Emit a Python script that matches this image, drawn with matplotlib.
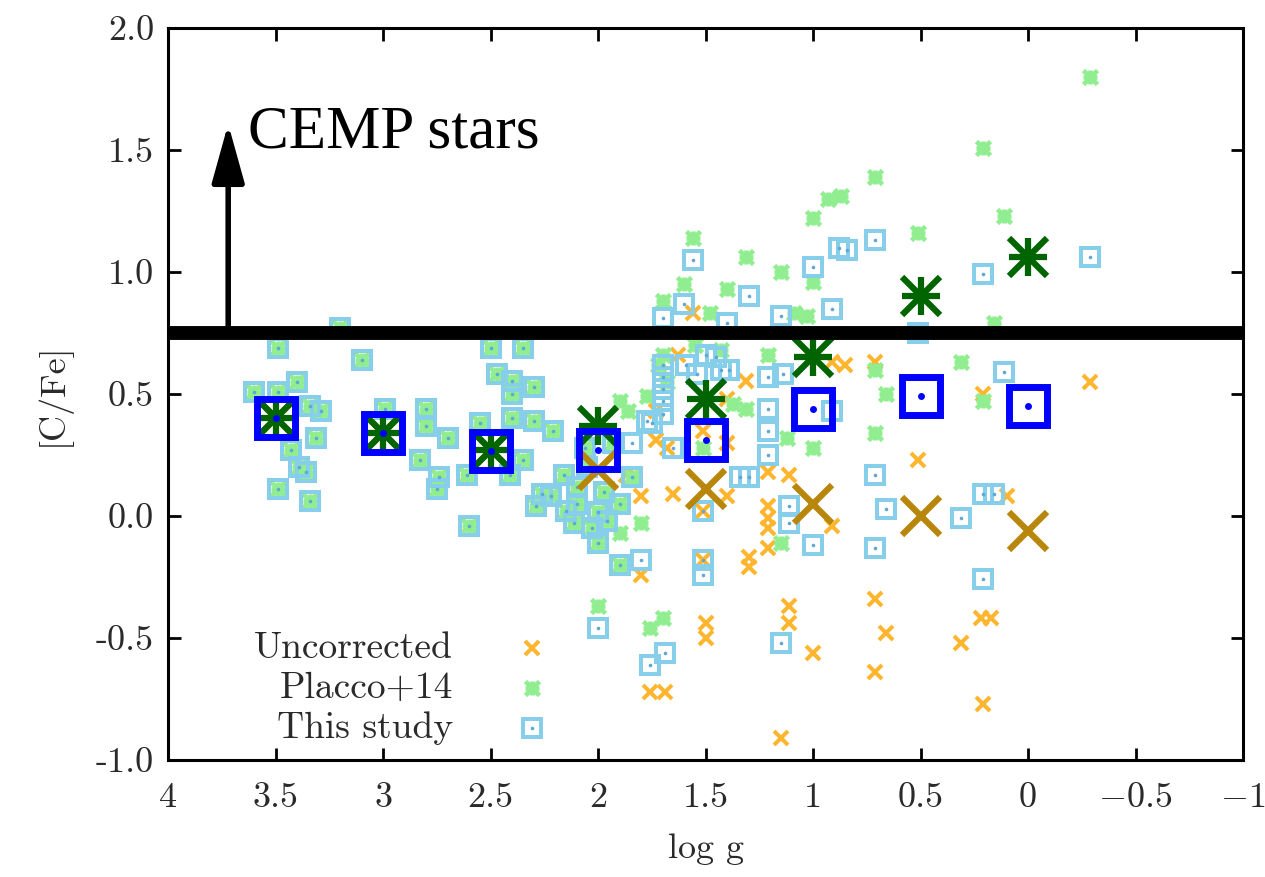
import matplotlib
matplotlib.use("Agg")
import matplotlib.pyplot as plt
import numpy as np

plt.rcParams["font.family"] = "serif"
plt.rcParams["font.serif"] = ["cmr10", "DejaVu Serif"]
plt.rcParams["mathtext.fontset"] = "cm"
plt.rcParams["axes.unicode_minus"] = False

# ---- data -------------------------------------------------------------
# stars whose three [C/Fe] estimates coincide (small corrections)
shared_logg = [3.20, 3.49, 3.10, 3.60, 3.49, 3.40, 3.34, 3.29, 3.31, 3.43,
               3.39, 3.36, 3.49, 3.34, 2.99, 2.80, 2.80, 2.70, 2.83, 2.74,
               2.75, 2.60, 2.50, 2.35, 2.47, 2.40, 2.40, 2.30, 2.55, 2.40,
               2.30, 2.21, 2.35, 2.61, 2.41, 2.26,
               2.22, 2.16, 2.10, 2.10, 2.11, 2.00, 1.96, 1.90, 1.84, 2.00,
               1.90, 2.29, 2.05, 1.97, 2.06, 1.93, 2.15, 2.03]
shared_cfe = [0.77, 0.69, 0.64, 0.51, 0.51, 0.55, 0.45, 0.43, 0.32, 0.27,
              0.20, 0.18, 0.11, 0.06, 0.44, 0.44, 0.37, 0.32, 0.23, 0.16,
              0.11, -0.04, 0.69, 0.69, 0.58, 0.555, 0.50, 0.53, 0.38, 0.40,
              0.39, 0.35, 0.23, 0.17, 0.17, 0.09,
              0.08, 0.17, 0.12, 0.05, -0.03, 0.015, -0.02, 0.05, 0.16, -0.11,
              -0.20, 0.04, 0.20, 0.10, 0.28, 0.30, 0.02, -0.05]

# This study
study_logg = [1.84, 1.77, 1.70, 1.70, 1.70, 1.70, 1.70, 1.65, 1.59, 1.50,
              1.45, 1.43, 1.39, 1.54, 1.34, 1.51, 1.51, 1.51, 1.80, 1.75,
              1.56, 0.71, 0.88, 0.84, 1.00, 1.30, 1.60, 1.70, 1.40, 0.91,
              1.15, 0.21, -0.29,
              1.21, 1.21, 1.21, 1.21, 1.14, 1.30, 1.11, 1.11, 1.00, 0.71,
              0.66, 0.71, 0.91, 0.51, 0.11, 0.31, 0.21, 0.16, 0.21, 1.15,
              1.69, 1.76, 2.00]
study_cfe = [0.30, 0.39, 0.62, 0.57, 0.52, 0.47, 0.42, 0.28, 0.62, 0.66,
             0.65, 0.60, 0.60, 0.58, 0.16, 0.02, -0.18, -0.24, -0.18, 0.38,
             1.05, 1.13, 1.10, 1.09, 1.02, 0.90, 0.87, 0.81, 0.79, 0.85,
             0.82, 0.99, 1.06,
             0.57, 0.44, 0.35, 0.25, 0.58, 0.16, 0.04, -0.03, -0.12, 0.17,
             0.03, -0.13, 0.43, 0.75, 0.59, -0.01, 0.09, 0.09, -0.26, -0.52,
             -0.56, -0.61, -0.46]

# Placco+14
placco_logg = [-0.29, 0.21, 0.71, 0.87, 0.93, 0.11, 0.51, 1.00, 1.31, 1.15,
               1.56, 1.60, 1.40, 1.70, 1.48, 1.09, 1.03, 1.00, 0.16, 0.31,
               0.71, 0.66, 0.21, 0.71, 1.00, 1.12, 1.21, 1.70, 1.72, 1.31,
               1.37, 1.80, 1.90, 1.15, 2.00, 1.76, 1.70, 1.90, 1.86, 1.77,
               1.51, 1.43, 1.55, 1.68]
placco_cfe = [1.80, 1.51, 1.39, 1.31, 1.30, 1.23, 1.16, 1.22, 1.06, 1.00,
              1.14, 0.95, 0.93, 0.88, 0.83, 0.83, 0.82, 0.96, 0.79, 0.63,
              0.60, 0.50, 0.47, 0.34, 0.28, 0.32, 0.66, 0.66, 0.62, 0.44,
              0.46, -0.03, -0.07, -0.11, -0.37, -0.46, -0.42, 0.47, 0.43, 0.49,
              0.28, 0.68, 0.70, 0.55]

# Uncorrected
uncorr_logg = [0.51, 0.71, 0.66, 0.71, 0.21, 0.31, 0.22, 0.17, 1.00, 1.15,
               1.11, 1.11, 1.50, 1.50, 1.76, 1.69, 1.30, 1.30, 0.10, -0.29,
               1.80, 1.56, 1.63, 1.31, 1.40, 1.40, 0.91, 0.85, 1.73, 1.73,
               1.68, 1.87, 1.80, 1.65, 1.40, 1.21, 1.21, 1.21, 1.21, 1.21,
               1.11, 0.91, 0.71, 0.21, 1.51, 1.51, 1.51]
uncorr_cfe = [0.23, -0.34, -0.48, -0.64, -0.77, -0.52, -0.42, -0.42, -0.56, -0.91,
              -0.37, -0.44, -0.44, -0.50, -0.72, -0.72, -0.17, -0.21, 0.08, 0.55,
              -0.24, 0.83, 0.66, 0.555, 0.48, 0.30, 0.63, 0.62, 0.43, 0.31,
              0.28, 0.17, 0.08, 0.09, 0.08, 0.18, 0.04, -0.01, -0.05, -0.13,
              0.17, -0.04, 0.63, 0.50, 0.35, 0.02, -0.18]

# binned means
bin_logg = [3.5, 3.0, 2.5, 2.0, 1.5, 1.0, 0.5, 0.0]
bin_placco = [0.40, 0.34, 0.27, 0.37, 0.48, 0.65, 0.90, 1.06]
bin_study = [0.40, 0.34, 0.265, 0.27, 0.31, 0.44, 0.49, 0.45]
bin_uncorr = [0.40, 0.34, 0.27, 0.19, 0.11, 0.05, 0.00, -0.06]

cemp_limit = 0.75
x_ticks = [4, 3.5, 3, 2.5, 2, 1.5, 1, 0.5, 0, -0.5, -1]
x_ticklabels = ["4", "3.5", "3", "2.5", "2", "1.5", "1", "0.5", "0",
                r"$-0.5$", r"$-1$"]
y_ticks = [-1.0, -0.5, 0.0, 0.5, 1.0, 1.5, 2.0]
y_ticklabels = ["-1.0", "-0.5", "0.0", "0.5", "1.0", "1.5", "2.0"]
legend_labels = ["Uncorrected", "Placco+14", "This study"]

# ---- colours ----------------------------------------------------------
c_unc = "#FFB52E"
c_pla = "#90EE90"
c_stu = "#87CEEB"
c_unc_big = "#B8860B"
c_pla_big = "#006400"
c_stu_big = "#0000FF"
txt = "#2a2a2a"

fig = plt.figure(figsize=(12.65, 8.77), dpi=100)
ax = fig.add_axes([168 / 1265, 1 - 760 / 877, 1075 / 1265, 732 / 877])


def draw_x(ax, x, y, color, ms, mew, z, **kw):
    ax.plot(x, y, ls="none", marker="x", ms=ms, mew=mew, color=color,
            zorder=z, **kw)


def draw_star(ax, x, y, color, ms, mew, z, **kw):
    ax.plot(x, y, ls="none", marker="+", ms=ms, mew=mew, color=color, zorder=z, **kw)
    ax.plot(x, y, ls="none", marker="x", ms=ms, mew=mew, color=color, zorder=z, **kw)


def draw_box(ax, x, y, color, ms, mew, dot_ms, z, dot_color=None, **kw):
    ax.plot(x, y, ls="none", marker="s", ms=ms, mew=mew, mfc="none",
            mec=color, zorder=z, **kw)
    ax.plot(x, y, ls="none", marker="o", ms=dot_ms, mew=0,
            color=dot_color or color, zorder=z, **kw)


unc_x = shared_logg + uncorr_logg
unc_y = shared_cfe + uncorr_cfe
pla_x = shared_logg + placco_logg
pla_y = shared_cfe + placco_cfe
stu_x = shared_logg + study_logg
stu_y = shared_cfe + study_cfe

SMALL_X = (10, 2.9)
SMALL_STAR = (9.5, 3.4)
SMALL_BOX = (12.5, 2.9, 2.6)

draw_x(ax, unc_x, unc_y, c_unc, *SMALL_X, 3)
draw_star(ax, pla_x, pla_y, c_pla, *SMALL_STAR, 4)
draw_box(ax, stu_x, stu_y, c_stu, *SMALL_BOX, 5, dot_color="#5fa8d3")

draw_x(ax, bin_logg, bin_uncorr, c_unc_big, 27, 4.5, 6)
draw_star(ax, bin_logg, bin_placco, c_pla_big, 27, 4.5, 7)
draw_box(ax, bin_logg, bin_study, c_stu_big, 28, 5.0, 5, 8)

# CEMP threshold and arrow
ax.axhline(cemp_limit, color="black", lw=10, zorder=9)
ax.annotate("", xy=(3.72, 1.607), xytext=(3.72, cemp_limit),
            arrowprops=dict(arrowstyle="-|>,head_length=1.8,head_width=0.5",
                            mutation_scale=20, lw=4, color="black",
                            shrinkA=0, shrinkB=0), zorder=10)
ax.text(3.63, 1.51, "CEMP stars", fontsize=44, family="Liberation Serif",
        ha="left", va="baseline", color="black", zorder=10)

# key
key_rows = [0.153, 0.098, 0.0437]
for lab, yy in zip(legend_labels, key_rows):
    ax.text(0.265, yy, lab, transform=ax.transAxes, ha="right", va="center",
            fontsize=27, color=txt)
draw_x(ax, [0.3386], [key_rows[0]], c_unc, *SMALL_X, 11, transform=ax.transAxes)
draw_star(ax, [0.3386], [key_rows[1]], c_pla, *SMALL_STAR, 11, transform=ax.transAxes)
draw_box(ax, [0.3386], [key_rows[2]], c_stu, *SMALL_BOX, 11,
         dot_color="#5fa8d3", transform=ax.transAxes)

# axes
ax.set_xlim(4, -1)
ax.set_ylim(-1.0, 2.0)
ax.set_xticks(x_ticks)
ax.set_xticklabels(x_ticklabels)
ax.set_yticks(y_ticks)
ax.set_yticklabels(y_ticklabels)
ax.tick_params(direction="in", length=9, width=2, top=True, right=True,
               labelsize=26, labelcolor=txt)
ax.tick_params(axis="x", pad=16)
ax.tick_params(axis="y", pad=10)
for s in ax.spines.values():
    s.set_linewidth(2.2)
ax.set_xlabel("log g", fontsize=26, color=txt, labelpad=14)
ax.set_ylabel("[C/Fe]", fontsize=26, color=txt, labelpad=18)

fig.savefig("out.png", dpi=100)
